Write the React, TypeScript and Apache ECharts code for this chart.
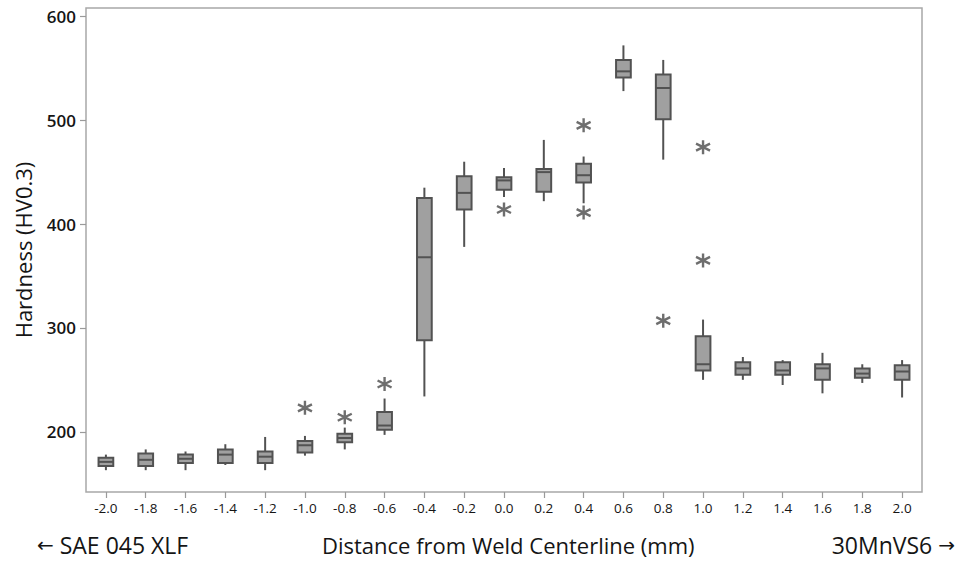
import React, { useEffect, useRef } from "react";
import * as echarts from "echarts";

const categories = ["-2.0", "-1.8", "-1.6", "-1.4", "-1.2", "-1.0", "-0.8", "-0.6", "-0.4", "-0.2", "0.0", "0.2", "0.4", "0.6", "0.8", "1.0", "1.2", "1.4", "1.6", "1.8", "2.0"];
const whiskerLow = [163, 163, 163, 168, 163, 177, 183, 197, 234, 378, 426, 422, 420, 528, 462, 250, 250, 245, 237, 247, 233];
const q1 = [167, 167, 170, 170, 170, 180, 190, 202, 288, 414, 433, 431, 440, 541, 501, 259, 255, 255, 250, 252, 250];
const median = [171, 173, 174, 178, 176, 187, 194, 206, 368, 430, 442, 450, 447, 547, 531, 265, 261, 259, 261, 256, 258];
const q3 = [175, 179, 178, 183, 181, 191, 198, 219, 425, 446, 445, 453, 458, 558, 544, 292, 267, 267, 265, 261, 264];
const whiskerHigh = [178, 183, 181, 188, 195, 196, 204, 232, 435, 460, 454, 481, 465, 572, 558, 308, 272, 269, 276, 265, 269];
// outliers: [category label, value]
const outliers: [string, number][] = [
  ["-1.0", 223],
  ["-0.8", 214],
  ["-0.6", 246],
  ["0.0", 414],
  ["0.4", 411],
  ["0.4", 495],
  ["0.8", 307],
  ["1.0", 365],
  ["1.0", 474],
];
const yTicks = [200, 300, 400, 500, 600];
const yMin = 142;
const yMax = 608;

const FONT = "'Open Sans', 'Noto Sans', sans-serif";
const ARROW_FONT = "'DejaVu Sans', sans-serif";
const BOX_STROKE = "#525252";
const BOX_FILL = "#a0a0a0";
const TEXT = "#151515";

export default function App() {
  const ref = useRef<HTMLDivElement>(null);
  useEffect(() => {
    document.body.style.margin = "0";
    const chart = echarts.init(ref.current!, null, { renderer: "svg" });
    const boxData = categories.map((_, i) => [i, whiskerLow[i], q1[i], median[i], q3[i], whiskerHigh[i]]);
    const rich = {
      a: { fontFamily: ARROW_FONT, fontSize: 20, fill: TEXT, color: TEXT },
      t: { fontFamily: FONT, fontSize: 23, fill: TEXT, color: TEXT },
    };
    chart.setOption({
      animation: false,
      backgroundColor: "#ffffff",
      grid: {
        left: 86,
        right: 34,
        top: 8,
        bottom: 69,
        show: true,
        borderColor: "#a8a8a8",
        borderWidth: 1.5,
        backgroundColor: "transparent",
      },
      xAxis: {
        type: "category",
        data: categories,
        boundaryGap: true,
        axisLine: { show: false },
        axisTick: { show: true, alignWithLabel: true, length: 6, lineStyle: { color: "#9a9a9a", width: 1.2 } },
        axisLabel: { fontFamily: FONT, fontSize: 13.5, color: TEXT, margin: 9, interval: 0 },
        splitLine: { show: false },
      },
      yAxis: {
        type: "value",
        min: yMin,
        max: yMax,
        axisLine: { show: false },
        axisTick: { show: true, length: 6, customValues: yTicks, lineStyle: { color: "#9a9a9a", width: 1.2 } },
        axisLabel: { fontFamily: FONT, fontSize: 17, fontWeight: 600, color: TEXT, margin: 10, customValues: yTicks },
        splitLine: { show: false },
        name: "Hardness (HV0.3)",
        nameLocation: "middle",
        nameGap: 52,
        nameTextStyle: { fontFamily: FONT, fontSize: 22, color: TEXT },
      },
      series: [
        {
          type: "custom",
          data: boxData,
          encode: { x: 0, y: [1, 2, 3, 4, 5] },
          renderItem: (params: any, api: any) => {
            const idx = api.value(0);
            const pLow = api.coord([idx, api.value(1)]);
            const pQ1 = api.coord([idx, api.value(2)]);
            const pMed = api.coord([idx, api.value(3)]);
            const pQ3 = api.coord([idx, api.value(4)]);
            const pHigh = api.coord([idx, api.value(5)]);
            const bw = api.size([1, 0])[0] * 0.37;
            const cx = pMed[0];
            const lineStyle = { stroke: BOX_STROKE, lineWidth: 2 };
            return {
              type: "group",
              children: [
                { type: "line", shape: { x1: cx, y1: pQ3[1], x2: cx, y2: pHigh[1] }, style: lineStyle },
                { type: "line", shape: { x1: cx, y1: pQ1[1], x2: cx, y2: pLow[1] }, style: lineStyle },
                {
                  type: "rect",
                  shape: { x: cx - bw / 2, y: pQ3[1], width: bw, height: pQ1[1] - pQ3[1] },
                  style: { fill: BOX_FILL, stroke: BOX_STROKE, lineWidth: 2 },
                },
                { type: "line", shape: { x1: cx - bw / 2, y1: pMed[1], x2: cx + bw / 2, y2: pMed[1] }, style: lineStyle },
              ],
            };
          },
          z: 2,
        },
        {
          type: "scatter",
          data: outliers,
          symbol: "path://M6,0L6,12M0.8,3L11.2,9M0.8,9L11.2,3",
          symbolSize: [14, 14],
          itemStyle: { color: "rgba(0,0,0,0)", borderColor: "#4a4a4a", borderWidth: 2.4 },
          z: 3,
        },
      ],
      graphic: [
        {
          type: "text",
          left: 37,
          top: 533,
          style: { text: "{a|←} {t|SAE 045 XLF}", rich, fontFamily: FONT, fontSize: 23, fill: TEXT },
        },
        {
          type: "text",
          left: 322,
          top: 534,
          style: { text: "Distance from Weld Centerline (mm)", fontFamily: FONT, fontSize: 22, fill: TEXT },
        },
        {
          type: "text",
          right: 1,
          top: 533,
          style: { text: "{t|30MnVS6} {a|→}", rich, fontFamily: FONT, fontSize: 23, fill: TEXT },
        },
      ],
    });
    return () => chart.dispose();
  }, []);
  return <div ref={ref} style={{ width: 956, height: 561 }} />;
}
